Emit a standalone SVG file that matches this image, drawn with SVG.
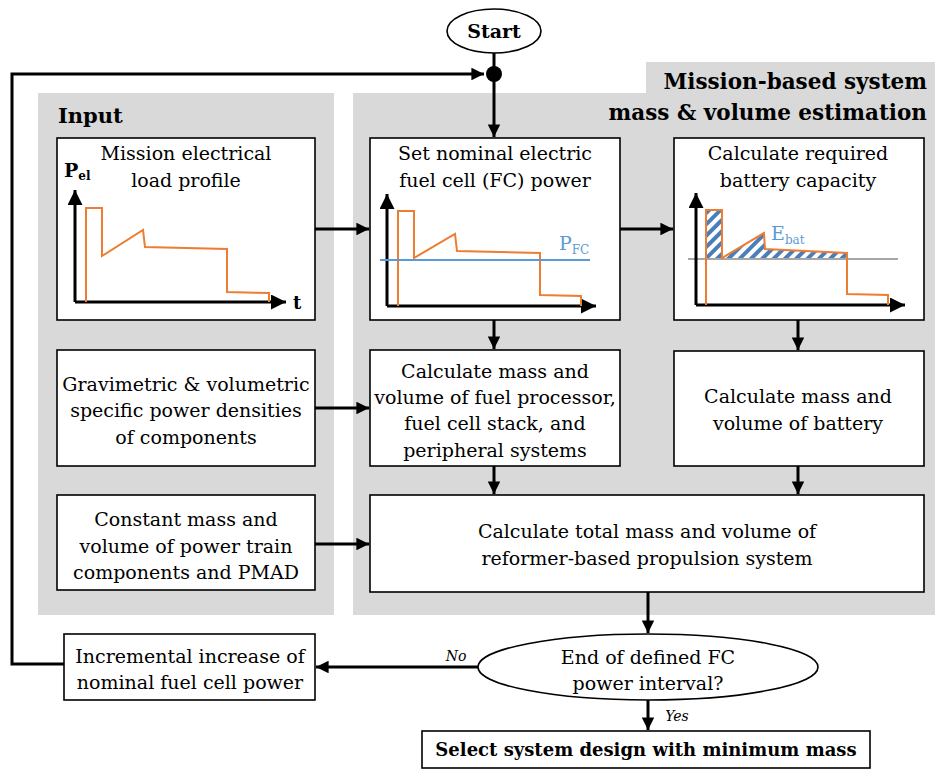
<svg xmlns="http://www.w3.org/2000/svg" width="935" height="771" viewBox="0 0 935 771" font-family="DejaVu Serif, serif">
<defs>
<style>
svg text{font-family:'DejaVu Serif',serif !important;fill:#000}
.t{font-size:19px;text-anchor:middle}
.b{font-weight:bold}
.box{fill:#fff;stroke:#000;stroke-width:1.6}
.panel{fill:#d9d9d9}
.con{fill:none;stroke:#000;stroke-width:3}
.ax{fill:none;stroke:#000;stroke-width:3}
.or{fill:none;stroke:#ed7d31;stroke-width:2}
.lab{font-size:14px;font-style:italic}
</style>
<marker id="ah" viewBox="0 0 10 10" refX="10" refY="5" markerWidth="4.2" markerHeight="4.2" orient="auto" markerUnits="strokeWidth">
<path d="M0,0 L10,5 L0,10 Z" fill="#000"/>
</marker>
<marker id="axh" viewBox="0 0 10 10" refX="10" refY="5" markerWidth="5" markerHeight="5" orient="auto" markerUnits="strokeWidth">
<path d="M0,0 L10,5 L0,10 Z" fill="#000"/>
</marker>
<pattern id="hatch" width="8" height="8" patternUnits="userSpaceOnUse" patternTransform="rotate(45)">
<rect width="8" height="8" fill="#fff"/>
<rect x="0" y="0" width="4" height="8" fill="#4a7ebb"/>
</pattern>
</defs>
<rect width="935" height="771" fill="#fff"/>

<g id="panels">
<rect class="panel" x="38" y="93" width="296" height="522"/>
<rect class="panel" x="353" y="93" width="582" height="522"/>
<rect class="panel" x="646" y="62" width="289" height="32"/>
<text class="b" x="58" y="123" style="font-size:21px">Input</text>
<text class="b" x="927" y="89" style="font-size:21.5px;text-anchor:end">Mission-based system</text>
<text class="b" x="927" y="120" style="font-size:21.5px;text-anchor:end">mass &amp; volume estimation</text>
</g>

<g id="connectors">
<path class="con" d="M494,53 V74"/>
<path class="con" d="M494,74 V137" marker-end="url(#ah)"/>
<path class="con" d="M64,664 H12 V74 H484" marker-end="url(#ah)"/>
<path class="con" d="M315,229 H369" marker-end="url(#ah)"/>
<path class="con" d="M620,229 H673" marker-end="url(#ah)"/>
<path class="con" d="M494,320 V349" marker-end="url(#ah)"/>
<path class="con" d="M798,320 V350" marker-end="url(#ah)"/>
<path class="con" d="M315,408 H369" marker-end="url(#ah)"/>
<path class="con" d="M315,544 H369" marker-end="url(#ah)"/>
<path class="con" d="M494,466 V494" marker-end="url(#ah)"/>
<path class="con" d="M798,466 V494" marker-end="url(#ah)"/>
<path class="con" d="M648,592 V633" marker-end="url(#ah)"/>
<path class="con" d="M478,667 H316" marker-end="url(#ah)"/>
<path class="con" d="M648,700 V730" marker-end="url(#ah)"/>
<text class="lab" x="456" y="661" text-anchor="middle">No</text>
<text class="lab" x="677" y="721" text-anchor="middle">Yes</text>
<circle cx="494" cy="74" r="8" fill="#000"/>
</g>

<g id="start">
<ellipse cx="494" cy="31" rx="47" ry="22" fill="#fff" stroke="#000" stroke-width="1.6"/>
<text class="t b" x="494" y="38" style="font-size:19px">Start</text>
</g>

<g id="load-profile">
<rect class="box" x="57" y="138" width="258" height="182"/>
<text class="t" x="186" y="160">Mission electrical</text>
<text class="t" x="186" y="187">load profile</text>
<path class="ax" d="M75,302 V190" marker-end="url(#axh)"/>
<path class="ax" d="M75,302 H286" marker-end="url(#axh)"/>
<text class="b" x="64" y="177" style="font-size:19px">P<tspan style="font-size:12px" dy="3">el</tspan></text>
<text class="b" x="293" y="309" style="font-size:18px">t</text>
<path class="or" d="M86,302 V208 H102 V256 L143,230 L145,247 L227,249 V292 L269,293 V302"/>
</g>

<g id="set-nominal">
<rect class="box" x="370" y="138" width="250" height="182"/>
<text class="t" x="495" y="160">Set nominal electric</text>
<text class="t" x="495" y="187">fuel cell (FC) power</text>
<path class="ax" d="M387,306 V194" marker-end="url(#axh)"/>
<path class="ax" d="M387,306 H596" marker-end="url(#axh)"/>
<path class="or" d="M398,306 V211 H414 V258 L455,234 L457,251 L540,253 V295 L581,296 V306"/>
<path d="M380,260 H590" stroke="#5b9bd5" stroke-width="2" fill="none"/>
<text x="559" y="250" style="font-size:19px;fill:#5b9bd5">P<tspan style="font-size:12px" dy="4">FC</tspan></text>
</g>

<g id="battery-capacity">
<rect class="box" x="674" y="138" width="250" height="182"/>
<text class="t" x="798" y="160">Calculate required</text>
<text class="t" x="798" y="187">battery capacity</text>
<path d="M706,259 V210 H722 V258 L764,233 L765,249 L847,253 V259 Z" fill="url(#hatch)"/>
<path d="M688,259 H898" stroke="#a6a6a6" stroke-width="2" fill="none"/>
<path class="ax" d="M696,305 V193" marker-end="url(#axh)"/>
<path class="ax" d="M696,305 H905" marker-end="url(#axh)"/>
<path class="or" d="M706,305 V210 H722 V258 L764,233 L765,249 L847,253 V294 L888,295 V305"/>
<text x="771" y="240" style="font-size:19px;fill:#5b9bd5">E<tspan style="font-size:12px" dy="4">bat</tspan></text>
</g>

<g id="gravimetric">
<rect class="box" x="57" y="350" width="258" height="116"/>
<text class="t" x="186" y="391">Gravimetric &amp; volumetric</text>
<text class="t" x="186" y="417">specific power densities</text>
<text class="t" x="186" y="444">of components</text>
</g>

<g id="constant-mass">
<rect class="box" x="57" y="495" width="258" height="95"/>
<text class="t" x="186" y="526">Constant mass and</text>
<text class="t" x="186" y="553">volume of power train</text>
<text class="t" x="186" y="579">components and PMAD</text>
</g>

<g id="calc-fc">
<rect class="box" x="370" y="350" width="250" height="116"/>
<text class="t" x="495" y="378">Calculate mass and</text>
<text class="t" x="495" y="404">volume of fuel processor,</text>
<text class="t" x="495" y="430">fuel cell stack, and</text>
<text class="t" x="495" y="457">peripheral systems</text>
</g>

<g id="calc-battery">
<rect class="box" x="674" y="351" width="250" height="115"/>
<text class="t" x="798" y="403">Calculate mass and</text>
<text class="t" x="798" y="430">volume of battery</text>
</g>

<g id="calc-total">
<rect class="box" x="370" y="495" width="554" height="97"/>
<text class="t" x="647" y="538">Calculate total mass and volume of</text>
<text class="t" x="647" y="565">reformer-based propulsion system</text>
</g>

<g id="decision">
<ellipse cx="648" cy="667" rx="170" ry="33" fill="#fff" stroke="#000" stroke-width="1.6"/>
<text class="t" x="648" y="664">End of defined FC</text>
<text class="t" x="648" y="690">power interval?</text>
</g>

<g id="incremental">
<rect class="box" x="64" y="634" width="251" height="66"/>
<text class="t" x="190" y="663">Incremental increase of</text>
<text class="t" x="190" y="689">nominal fuel cell power</text>
</g>

<g id="select">
<rect class="box" x="422" y="731" width="448" height="37"/>
<text class="t b" x="646" y="756" style="font-size:18px">Select system design with minimum mass</text>
</g>
</svg>
